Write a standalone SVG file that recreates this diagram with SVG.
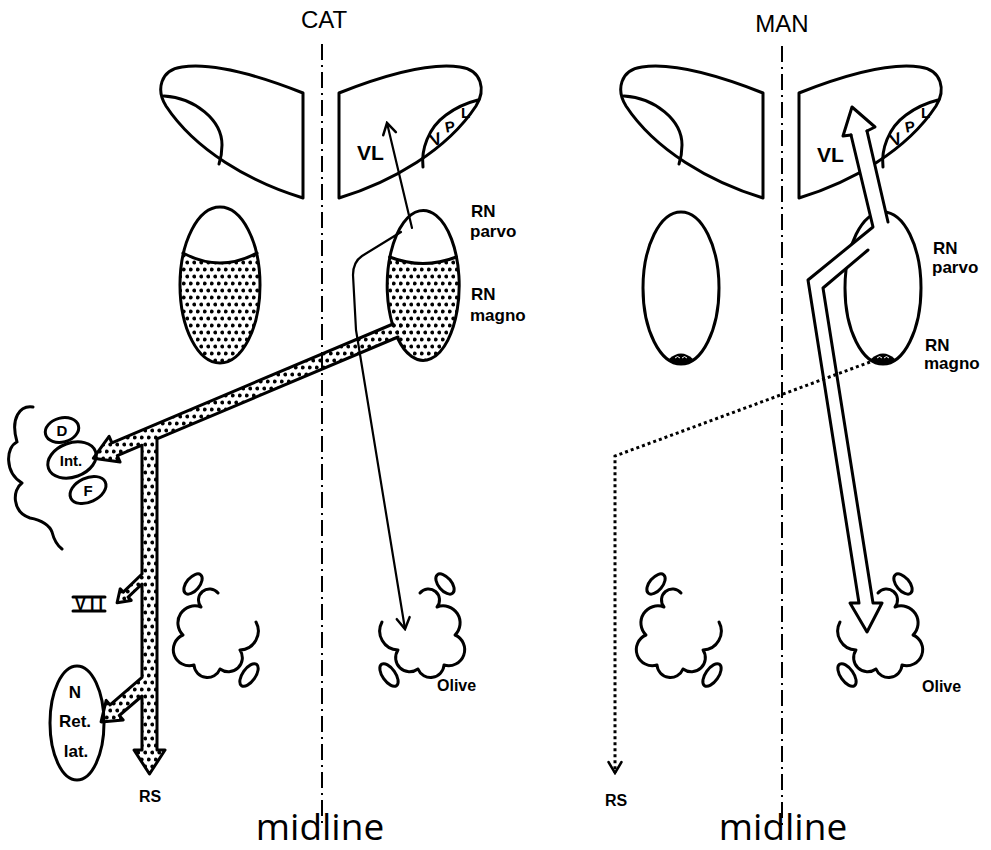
<svg xmlns="http://www.w3.org/2000/svg" width="991" height="850" viewBox="0 0 991 850">
<style>
  .ol { fill:none; stroke:#000; stroke-width:3; stroke-linejoin:round; stroke-linecap:round; }
  .thin { fill:none; stroke:#000; stroke-width:2.2; stroke-linejoin:round; stroke-linecap:round; }
  .mid { fill:none; stroke:#000; stroke-width:2; stroke-dasharray:16 5 2 5; }
  .dotted { fill:none; stroke:#000; stroke-width:3; stroke-dasharray:3 3; }
  .lbl { font-family:"Liberation Sans", Arial, sans-serif; font-weight:bold; fill:#000; }
  .title { font-family:"Liberation Sans", Arial, sans-serif; font-size:24px; fill:#000; }
  .cap { font-family:"Open Sans", "Liberation Sans", sans-serif; font-size:37px; fill:#000; }
</style>
<defs>
  <pattern id="dots" patternUnits="userSpaceOnUse" width="7" height="14">
    <circle cx="1.75" cy="3.5" r="1.9"/>
    <circle cx="5.25" cy="10.5" r="1.9"/>
  </pattern>
  <marker id="vhead" markerUnits="userSpaceOnUse" viewBox="-14 -10 16 20" markerWidth="16" markerHeight="20" refX="0" refY="0" orient="auto">
    <path d="M-11,-6.5 L0,0 L-11,6.5" fill="none" stroke="#000" stroke-width="2.5" stroke-dasharray="none" stroke-linecap="round"/>
  </marker>
  <!-- thalamus outline (left-hand copy, mirrored for the right) -->
  <path id="thal-out" d="M303,93 C265,78 215,62 182,67 C160,70 156,90 166,106 C195,150 250,182 303,198 Z"/>
  <path id="thal-in" d="M164,96 C195,98 222,120 222,145 C222,152 221,158 219,164"/>
  <path id="vpl-in" d="M423,167 C421,150 428,128 446,115 C458,106 470,102 478,100"/>
  <!-- inferior olive: lobulated outline with two small satellite nuclei -->
  <g id="olive-shape">
    <path d="M1,-45 A11,11 0 0 0 -16,-31 A17,17 0 0 0 -34,-3 A16,16 0 0 0 -23,27 A13.5,13.5 0 0 0 3,31 A14,14 0 0 0 23,12 A19,19 0 0 0 39,-16"/>
    <ellipse cx="-24" cy="-54" rx="12" ry="6.5" transform="rotate(-50 -24 -54)"/>
    <ellipse cx="32" cy="37" rx="13" ry="6.5" transform="rotate(-55 32 37)"/>
  </g>
  <!-- small magnocellular remnant at the base of the human red nucleus -->
  <g id="magno-spot">
    <path d="M-12,-5 Q0,-16 12,-5 L10,-2 Q0,3 -10,-2 Z" fill="#000" stroke="none"/>
    <path d="M-6,-6 q2.5,-3 5,0 M1,-6 q2.5,-3 5,0" fill="none" stroke="#fff" stroke-width="1"/>
  </g>
  <!-- V P L lettering set along the nucleus -->
  <g id="vpl-text" class="lbl">
    <text x="430" y="145" font-size="17" transform="rotate(-20 436 139)">V</text>
    <text x="445" y="132" font-size="15" transform="rotate(-10 450 127)">P</text>
    <text x="461" y="118" font-size="15">L</text>
  </g>
  <clipPath id="clip-rn-cat-l"><ellipse cx="220" cy="285" rx="40" ry="78"/></clipPath>
  <clipPath id="clip-rn-cat-r"><ellipse cx="423" cy="285" rx="36" ry="75"/></clipPath>
</defs>

<rect width="991" height="850" fill="#fff"/>

<!-- ===== CAT ===== -->
<g id="cat-thalamus-left" class="ol">
  <use href="#thal-out"/>
  <use href="#thal-in"/>
</g>
<g id="cat-thalamus-right">
  <use class="ol" href="#thal-out" transform="translate(642,0) scale(-1,1)"/>
  <use class="ol" href="#vpl-in"/>
  <text class="lbl" x="357" y="160" font-size="21">VL</text>
  <use href="#vpl-text"/>
</g>

<g id="cat-rn-left">
  <path d="M160,253 L183,253 Q220,273 257,253 L280,253 L280,370 L160,370 Z" fill="url(#dots)" clip-path="url(#clip-rn-cat-l)"/>
  <ellipse class="ol" cx="220" cy="285" rx="40" ry="78"/>
  <path class="ol" d="M183,253 Q220,273 257,253"/>
</g>

<g id="cat-rn-right">
  <path d="M380,257 L389.6,257 Q423,270 456.4,257 L470,257 L470,370 L380,370 Z" fill="url(#dots)" clip-path="url(#clip-rn-cat-r)"/>
  <path class="ol" d="M392.6,325 A36,75 0 1 1 397.5,338"/>
  <path class="ol" d="M389.6,257 Q423,270 456.4,257"/>
  <text class="lbl" x="471" y="217" font-size="17">RN</text>
  <text class="lbl" x="470" y="237" font-size="17">parvo</text>
  <text class="lbl" x="471" y="300" font-size="17">RN</text>
  <text class="lbl" x="470" y="321" font-size="17">magno</text>
</g>

<g id="cat-cerebellum">
  <path class="ol" d="M33,407 C20,405 10,418 17,442 C6,447 4,472 22,483 C12,490 12,512 30,518 C42,520 50,526 52,532 C54,540 58,546 62,549"/>
  <ellipse class="ol" cx="62" cy="430" rx="17" ry="12" transform="rotate(-15 62 430)"/>
  <ellipse class="ol" cx="72" cy="460" rx="25" ry="17" transform="rotate(-20 72 460)"/>
  <ellipse class="ol" cx="88" cy="490" rx="19" ry="12" transform="rotate(-25 88 490)"/>
  <text class="lbl" x="62" y="436" font-size="15" text-anchor="middle">D</text>
  <text class="lbl" x="71" y="466" font-size="15" text-anchor="middle">Int.</text>
  <text class="lbl" x="88" y="496" font-size="15" text-anchor="middle">F</text>
</g>

<g id="cat-n-ret-lat">
  <ellipse class="ol" cx="77" cy="723" rx="27" ry="57"/>
  <text class="lbl" x="75" y="698" font-size="17" text-anchor="middle">N</text>
  <text class="lbl" x="75" y="727" font-size="17" text-anchor="middle">Ret.</text>
  <text class="lbl" x="76" y="757" font-size="17" text-anchor="middle">lat.</text>
</g>

<g id="cat-vii">
  <path class="ol" d="M73,597 H105 M73,611 H105"/>
  <text class="lbl" x="75" y="609.5" font-size="16" textLength="28" lengthAdjust="spacing">VII</text>
</g>

<g id="cat-olive-left" class="ol"><use href="#olive-shape" transform="translate(217,638)"/></g>
<g id="cat-olive-right">
  <use class="ol" href="#olive-shape" transform="translate(421,638) scale(-1,1)"/>
  <text class="lbl" x="437" y="691" font-size="16">Olive</text>
</g>

<!-- ===== MAN ===== -->
<g id="man-thalamus-left" class="ol" transform="translate(460,0)">
  <use href="#thal-out"/>
  <use href="#thal-in"/>
</g>
<g id="man-thalamus-right" transform="translate(460,0)">
  <use class="ol" href="#thal-out" transform="translate(642,0) scale(-1,1)"/>
  <use class="ol" href="#vpl-in"/>
  <text class="lbl" x="357" y="162" font-size="21">VL</text>
  <use href="#vpl-text"/>
</g>

<g id="man-rn-left">
  <ellipse class="ol" cx="681" cy="288" rx="38" ry="76"/>
  <use href="#magno-spot" transform="translate(681,364)"/>
</g>
<g id="man-rn-right">
  <ellipse class="ol" cx="883" cy="288" rx="38" ry="76"/>
  <use href="#magno-spot" transform="translate(883,364)"/>
  <text class="lbl" x="933" y="254" font-size="17">RN</text>
  <text class="lbl" x="932" y="273" font-size="17">parvo</text>
  <text class="lbl" x="925" y="351" font-size="17">RN</text>
  <text class="lbl" x="924" y="369" font-size="17">magno</text>
</g>

<g id="man-olive-left" class="ol"><use href="#olive-shape" transform="translate(680,638)"/></g>
<g id="man-olive-right">
  <use class="ol" href="#olive-shape" transform="translate(879,638) scale(-1,1)"/>
  <text class="lbl" x="922" y="692" font-size="16">Olive</text>
</g>

<!-- ===== connectors ===== -->
<g id="connectors">
  <!-- cat: dotted projection from RN magno (cerebellar nuclei, VII, N. ret. lat., rubrospinal) -->
  <path d="M393,324 L111.9,442.8 L109.1,436.3 L93.4,458.2 L120.1,462.1 L117.3,455.6 L142,445.2 L142,574 L123.3,592.1 L120.2,588.8 L117.1,602.8 L131.2,600.4 L128.1,597.1 L142,584 L142,677.3 L110.1,704.9 L106.2,700.4 L101.1,721.9 L123.2,720 L119.3,715.5 L142,696 L142,750 L134,750 L149.5,774 L165,750 L157,750 L157,438.9 L398,337 L410,332 L406,318 Z" fill="url(#dots)"/>
  <path class="ol" d="M393,324 L111.9,442.8 L109.1,436.3 L93.4,458.2 L120.1,462.1 L117.3,455.6 L142,445.2 L142,574 L123.3,592.1 L120.2,588.8 L117.1,602.8 L131.2,600.4 L128.1,597.1 L142,584 L142,677.3 L110.1,704.9 L106.2,700.4 L101.1,721.9 L123.2,720 L119.3,715.5 L142,696 L142,750 L134,750 L149.5,774 L165,750 L157,750 L157,438.9 L398,337"/>

  <!-- cat: parvocellular projections -->
  <path class="thin" d="M412,228 L387,123" marker-end="url(#vhead)"/>
  <path class="thin" d="M401,232 L362,256 Q353,262 353,275 L356,330 L405,629" marker-end="url(#vhead)"/>

  <!-- man: large parvocellular band to VL and to the olive -->
  <polygon points="851,135 873,227 808,280 859,603 873,603 823,288 868,250 888,222 867,131" fill="#fff"/>
  <path class="ol" d="M851,135 L873,227 L808,280 L859,603 L850,603 L867,632 L882,603 L873,603 L823,288 L868,250"/>
  <path class="ol" d="M867,131 L888,222"/>
  <path class="ol" d="M851,135 L843,136 L852,107 L875,127 L867,131"/>

  <!-- man: residual rubrospinal projection -->
  <path class="dotted" d="M870,362 L615,456 L615,773" marker-end="url(#vhead)"/>
</g>

<!-- midlines -->
<g id="midlines">
  <line class="mid" x1="322" y1="44" x2="322" y2="826"/>
  <line class="mid" x1="782" y1="46" x2="782" y2="826"/>
</g>

<!-- titles and captions -->
<g id="titles">
  <text class="title" x="324" y="28" text-anchor="middle">CAT</text>
  <text class="title" x="782" y="32" text-anchor="middle">MAN</text>
  <text class="lbl" x="150" y="802" font-size="16" text-anchor="middle">RS</text>
  <text class="lbl" x="616" y="806" font-size="16" text-anchor="middle">RS</text>
  <text class="cap" x="320" y="840" text-anchor="middle">midline</text>
  <text class="cap" x="783" y="840" text-anchor="middle">midline</text>
</g>
</svg>
